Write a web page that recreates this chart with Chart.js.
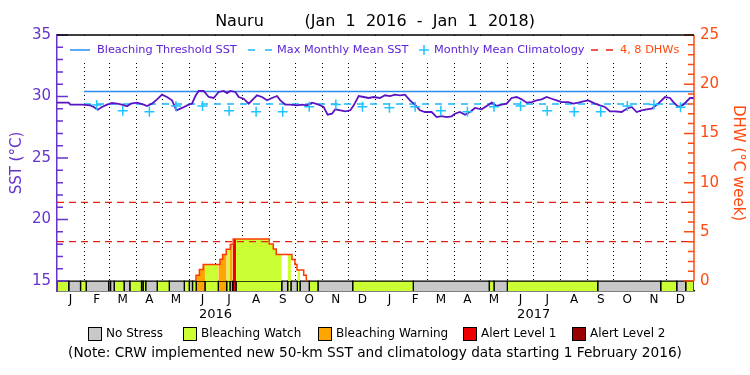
<!DOCTYPE html>
<html>
<head>
<meta charset="utf-8">
<script src="https://cdn.jsdelivr.net/npm/chart.js@4.4.1/dist/chart.umd.min.js"></script>
<style>
html, body { margin: 0; padding: 0; background: #fff; }
</style>
</head>
<body>
<canvas id="myChart" width="750" height="375"></canvas>
<script>
// x is days since Jan 1 2016
const monthLengths = [31,29,31,30,31,30,31,31,30,31,30,31, 31,28,31,30,31,30,31,31,30,31,30,31];
const monthLetters = ['J','F','M','A','M','J','J','A','S','O','N','D','J','F','M','A','M','J','J','A','S','O','N','D'];
const yearLabels = ['2016', '2017'];

// daily SST
const sstDays = [0,13.4,15.3,28.7,38.3,42.1,46.7,51.6,57.4,63.1,68.9,74.6,80.3,84.9,91.8,99.5,103.3,109,114.8,120.5,
  126.2,132,137,143.5,151.1,154.9,158.8,162.6,168.3,174.1,179.8,185.5,191.3,195.1,198.9,204.7,208.5,214.2,220,225.7,
  229.5,235.3,241,246.7,252.5,256.3,262.1,267.8,275.4,281.2,286.9,292.7,300.3,306,310.6,315.6,319.4,325.2,330.9,336.6,
  340.5,346.2,351.9,357.7,363.4,370.6,376.4,382.1,387.9,393.6,399.3,405.1,410.8,416.5,422.3,429.9,435.7,441.4,447.1,452.9,
  456.7,462.4,468.2,473.9,479.7,487.3,493.1,498.8,504.5,510.3,516,521.7,527.5,533.2,539,544.7,550.4,556.2,561.9,567.7,
  573.4,579.1,586.8,592.5,598.3,604,609.7,617.4,623.1,628.9,634.6,640.3,648,653.7,659.5,665.2,670.9,676.7,682.4,690.1,
  697.7,703.5,707.3,713,718.8,726.4,731];
const sstValues = [29.50,29.50,29.34,29.34,29.28,29.15,28.93,29.15,29.34,29.47,29.42,29.34,29.20,29.42,29.50,29.34,29.23,29.42,29.77,30.15,
  29.96,29.69,28.88,29.07,29.34,29.42,30.04,30.45,30.45,29.96,29.88,30.37,30.45,30.28,30.45,30.37,29.96,29.82,29.42,29.82,
  30.10,29.96,29.69,29.88,30.04,29.69,29.34,29.34,29.28,29.34,29.28,29.50,29.34,29.15,28.52,28.60,28.96,28.88,28.79,28.88,
  29.28,30.04,29.96,29.88,29.96,29.88,30.10,30.04,30.15,30.10,30.15,29.69,29.34,28.88,28.74,28.74,28.33,28.41,28.33,28.39,
  28.60,28.74,28.52,28.74,29.07,28.96,29.23,29.50,29.23,29.34,29.42,29.88,29.96,29.77,29.50,29.55,29.69,29.77,29.96,29.82,
  29.69,29.55,29.55,29.42,29.50,29.61,29.69,29.42,29.28,29.15,28.79,28.79,28.74,29.01,29.15,28.74,28.88,28.96,29.01,29.42,
  29.96,29.88,29.55,29.15,29.34,29.88,29.88];

// monthly mean climatology, one per month (none shown for Jan 2016)
const climValues = [null,29.31,28.85,28.77,29.23,29.23,28.85,28.77,28.77,29.17,29.36,29.17,
  29.09,29.17,28.85,28.77,29.17,29.23,28.85,28.77,28.77,29.23,29.36,29.12];

const mmmSST = 29.4;
const thresholdSST = 30.4;
const newClimStart = 31;   // 1 Feb 2016
const dhwLines = [4, 8];

// degree heating weeks (step values)
const dhwDays   = [159.5,163.4,167.8,187.0,190.1,194.2,198.9,202.2,243.5,248.2,251.6,269.6,273.0,275.4,283.1,286.1];
const dhwValues = [0.58, 1.17, 1.69, 2.22, 2.71, 3.22, 3.73, 4.27, 3.76, 3.25, 2.71, 2.20, 1.69, 1.13, 0.60, 0];

// stress level bar: 0 no stress, 1 watch, 2 warning, 3 alert 1, 4 alert 2
const stressStart = [0,13.5,27,33.5,59.3,61.4,65.6,77,83.6,97,98.8,101.8,115,128.9,146.1,151.8,155.5,159.7,169.8,185.1,
  194.7,198.5,201.6,205.4,257.9,264.7,268.5,275.8,278.9,289.5,299.5,339.3,408.9,496,501.5,516.8,620.5,692.8,711.2,721.5];
const stressLevel = [1,0,1,0,1,0,1,0,1,0,1,0,1,0,1,0,1,2,1,2,
  1,2,3,1,0,1,0,1,0,1,0,1,0,1,0,1,0,1,0,1];
const stressNames = ['No Stress', 'Bleaching Watch', 'Bleaching Warning', 'Alert Level 1', 'Alert Level 2'];
const stressColors = ['#c8c8c8', '#ccff33', '#ffa500', '#ee0000', '#990000'];

const X_MAX = 731;
const Y_MIN = 14.187, Y2_MIN = -1.016;

const PURPLE = '#6633cc', SST_LINE = '#5a14c4', THRESH = '#2a8cf0', CYAN = '#18b8f8';
const ORANGE = '#ff4a10', DHW_RED = '#e82010';

const monthStart = [0];
monthLengths.forEach((l, i) => monthStart.push(monthStart[i] + l));
const monthMid = monthLengths.map((l, i) => monthStart[i] + l / 2);

function dhwAt(day) {
    let v = 0;
    for (let i = 0; i < dhwDays.length; i++) if (dhwDays[i] <= day) v = dhwValues[i];
    return v;
}

Chart.defaults.font.family = "'DejaVu Sans', sans-serif";
Chart.defaults.color = '#000';

const datasets = [];

datasets.push({
    label: 'Monthly Mean Climatology',
    data: monthMid.map((d, i) => ({x: d, y: climValues[i]})),
    showLine: false, pointStyle: 'cross', pointRadius: 5, pointBorderWidth: 1.5,
    borderColor: '#1ec4ff', yAxisID: 'y', order: 0
});
datasets.push({
    label: 'SST',
    data: sstDays.map((d, i) => ({x: d, y: sstValues[i]})),
    borderColor: SST_LINE, borderWidth: 1.8, pointRadius: 0, tension: 0, yAxisID: 'y', order: 1
});
datasets.push({
    label: 'Bleaching Threshold SST',
    data: [{x: newClimStart, y: thresholdSST}, {x: X_MAX, y: thresholdSST}],
    borderColor: THRESH, borderWidth: 1.5, pointRadius: 0, yAxisID: 'y', order: 2
});
datasets.push({
    label: 'Max Monthly Mean SST',
    data: [{x: newClimStart, y: mmmSST}, {x: X_MAX, y: mmmSST}],
    borderColor: CYAN, borderWidth: 1.5, borderDash: [7, 6], pointRadius: 0, yAxisID: 'y', order: 3
});
dhwLines.forEach(v => datasets.push({
    label: v + ' DHW',
    data: [{x: 0, y: v}, {x: X_MAX, y: v}],
    borderColor: DHW_RED, borderWidth: 1.2, borderDash: [7, 5], pointRadius: 0, yAxisID: 'y2', order: 4
}));
datasets.push({
    label: 'DHW',
    data: [{x: dhwDays[0], y: 0}].concat(dhwDays.map((d, i) => ({x: d, y: dhwValues[i]}))),
    stepped: true, borderColor: '#ff3c00', borderWidth: 1.5, pointRadius: 0, yAxisID: 'y2', order: 5
});

// fill under the DHW curve, coloured by the stress level of each stretch
const dhwFirst = dhwDays[0], dhwLast = dhwDays[dhwDays.length - 1];
stressStart.forEach((s, i) => {
    const e = i + 1 < stressStart.length ? stressStart[i + 1] : X_MAX;
    const lvl = stressLevel[i];
    const a = Math.max(s, dhwFirst), b = Math.min(e, dhwLast);
    if (lvl === 0 || a >= b) return;
    const pts = [{x: a, y: dhwAt(a)}];
    dhwDays.forEach(d => { if (d > a && d < b) pts.push({x: d, y: dhwAt(d)}); });
    pts.push({x: b, y: dhwAt(b - 0.001)});
    datasets.push({
        label: 'fill' + i, data: pts, stepped: true, fill: 'origin',
        backgroundColor: stressColors[lvl], borderWidth: 0, pointRadius: 0, yAxisID: 'y2', order: 6
    });
});

// stress strip under the plot
stressStart.forEach((s, i) => {
    const e = i + 1 < stressStart.length ? stressStart[i + 1] : X_MAX;
    datasets.push({
        label: 'stress' + i,
        data: [{x: s, y: Y_MIN}, {x: s, y: 15}, {x: e, y: 15}, {x: e, y: Y_MIN}],
        fill: 'start', backgroundColor: stressColors[stressLevel[i]],
        borderColor: '#000', borderWidth: 1.3, pointRadius: 0, yAxisID: 'y', order: 7
    });
});

const topLegend = {
    id: 'topLegend',
    beforeDatasetsDraw(chart) {
        const {ctx, chartArea: a} = chart;
        ctx.save();
        ctx.fillStyle = '#fff';
        ctx.fillRect(a.left + 1, a.top + 1, a.right - a.left - 2, 24);
        ctx.restore();
    },
    afterDatasetsDraw(chart) {
        const {ctx, chartArea: a} = chart;
        const y = a.top + 15;
        ctx.save();
        ctx.font = "11.3px 'DejaVu Sans'";
        ctx.textBaseline = 'middle';
        ctx.lineWidth = 1.5;
        // line sample
        ctx.strokeStyle = THRESH;
        ctx.beginPath(); ctx.moveTo(70, y); ctx.lineTo(90, y); ctx.stroke();
        ctx.fillStyle = '#5c22d6';
        ctx.fillText('Bleaching Threshold SST', 97, y);
        ctx.strokeStyle = CYAN;
        ctx.setLineDash([7, 10]);
        ctx.beginPath(); ctx.moveTo(248, y); ctx.lineTo(272, y); ctx.stroke();
        ctx.setLineDash([]);
        ctx.fillText('Max Monthly Mean SST', 277, y);
        ctx.strokeStyle = '#1ec4ff';
        ctx.beginPath(); ctx.moveTo(419, y); ctx.lineTo(429, y); ctx.moveTo(424, y - 5); ctx.lineTo(424, y + 5); ctx.stroke();
        ctx.fillText('Monthly Mean Climatology', 434, y);
        ctx.strokeStyle = DHW_RED;
        ctx.setLineDash([7, 8]);
        ctx.beginPath(); ctx.moveTo(591, y); ctx.lineTo(613, y); ctx.stroke();
        ctx.setLineDash([]);
        ctx.fillStyle = ORANGE;
        ctx.fillText('4, 8 DHWs', 620, y);

        // inward axis ticks
        const ys = chart.scales.y, y2 = chart.scales.y2;
        ctx.strokeStyle = PURPLE;
        ctx.beginPath();
        for (let v = 15; v <= 35; v++) {
            const py = ys.getPixelForValue(v);
            ctx.moveTo(a.left, py); ctx.lineTo(a.left + (v % 5 === 0 ? 11 : 6), py);
        }
        ctx.stroke();
        ctx.strokeStyle = ORANGE;
        ctx.beginPath();
        ctx.moveTo(a.right, y2.getPixelForValue(0)); ctx.lineTo(a.right, y2.getPixelForValue(25));
        for (let v = 0; v <= 25; v++) {
            const py = y2.getPixelForValue(v);
            ctx.moveTo(a.right, py); ctx.lineTo(a.right - (v % 5 === 0 ? 10 : 6), py);
        }
        ctx.stroke();
        // top frame
        ctx.strokeStyle = '#000';
        ctx.beginPath(); ctx.moveTo(a.left, a.top); ctx.lineTo(a.right, a.top); ctx.stroke();
        ctx.restore();
    },
    afterDraw(chart) {
        // stress level legend
        const {ctx} = chart;
        const boxX = [88, 183, 318, 463, 572];
        const y = 334;
        ctx.save();
        ctx.font = "12px 'DejaVu Sans'";
        ctx.textBaseline = 'middle';
        stressNames.forEach((name, i) => {
            ctx.fillStyle = stressColors[i];
            ctx.fillRect(boxX[i], y - 6.5, 13, 13);
            ctx.strokeStyle = '#000'; ctx.lineWidth = 1;
            ctx.strokeRect(boxX[i] + 0.5, y - 6.5, 13, 13);
            ctx.fillStyle = '#000';
            ctx.fillText(name, boxX[i] + 18, y);
        });
        ctx.restore();
    }
};

const myChart = new Chart(document.getElementById('myChart'), {
    type: 'line',
    data: {datasets: datasets},
    options: {
        responsive: false,
        animation: false,
        layout: {padding: 0},
        plugins: {
            legend: {display: false},
            tooltip: {enabled: false},
            title: {
                display: true,
                text: 'Nauru        (Jan  1  2016  -  Jan  1  2018)',
                font: {size: 16, weight: 'normal'},
                color: '#000',
                padding: {top: 12, bottom: 3.8}
            },
            subtitle: {
                display: true,
                position: 'bottom',
                text: '(Note: CRW implemented new 50-km SST and climatology data starting 1 February 2016)',
                font: {size: 13.7, weight: 'normal'},
                color: '#000',
                padding: {top: 23.5, bottom: 13}
            }
        },
        scales: {
            x: {
                type: 'linear', min: 0, max: X_MAX, position: 'bottom', weight: 0,
                afterBuildTicks: s => { s.ticks = monthMid.map(v => ({value: v})); },
                afterFit: s => { s.height = 16; },
                grid: {display: false, drawTicks: false},
                border: {color: '#000', width: 1.5},
                ticks: {autoSkip: false, maxRotation: 0, padding: 2, font: {size: 12}, color: '#000',
                    callback: (v, i) => monthLetters[i]}
            },
            xYear: {
                type: 'linear', min: 0, max: X_MAX, position: 'bottom', weight: 1,
                afterBuildTicks: s => { s.ticks = [monthStart[6], monthStart[18]].map(v => ({value: v})); },
                afterFit: s => { s.height = 15; },
                grid: {display: false, drawTicks: false},
                border: {display: false},
                ticks: {autoSkip: false, maxRotation: 0, padding: 0, font: {size: 13}, color: '#000',
                    callback: (v, i) => yearLabels[i]}
            },
            xGrid: {
                type: 'linear', min: 0, max: X_MAX, position: 'top',
                afterBuildTicks: s => { s.ticks = monthStart.slice(1, -1).map(v => ({value: v})); },
                afterFit: s => { s.height = 0; },
                grid: {color: '#000', lineWidth: 1, drawTicks: false},
                border: {display: false, dash: [1, 3]},
                ticks: {display: false}
            },
            y: {
                type: 'linear', position: 'left', min: Y_MIN, max: 35,
                afterBuildTicks: s => { s.ticks = [15, 20, 25, 30, 35].map(v => ({value: v})); },
                afterFit: s => { s.width = 57; },
                grid: {display: false, drawTicks: false},
                border: {color: PURPLE, width: 1.5},
                ticks: {padding: 6, color: PURPLE, font: {size: 15}},
                title: {display: true, text: 'SST (°C)', color: PURPLE, font: {size: 15}, padding: {top: 8}}
            },
            y2: {
                type: 'linear', position: 'right', min: Y2_MIN, max: 25,
                afterBuildTicks: s => { s.ticks = [0, 5, 10, 15, 20, 25].map(v => ({value: v})); },
                afterFit: s => { s.width = 56; },
                grid: {display: false, drawTicks: false},
                border: {display: false},
                ticks: {padding: 6, color: ORANGE, font: {size: 15}},
                title: {display: true, text: 'DHW (°C week)', color: ORANGE, font: {size: 15}, padding: {top: 3}}
            }
        }
    },
    plugins: [topLegend]
});
</script>
</body>
</html>
